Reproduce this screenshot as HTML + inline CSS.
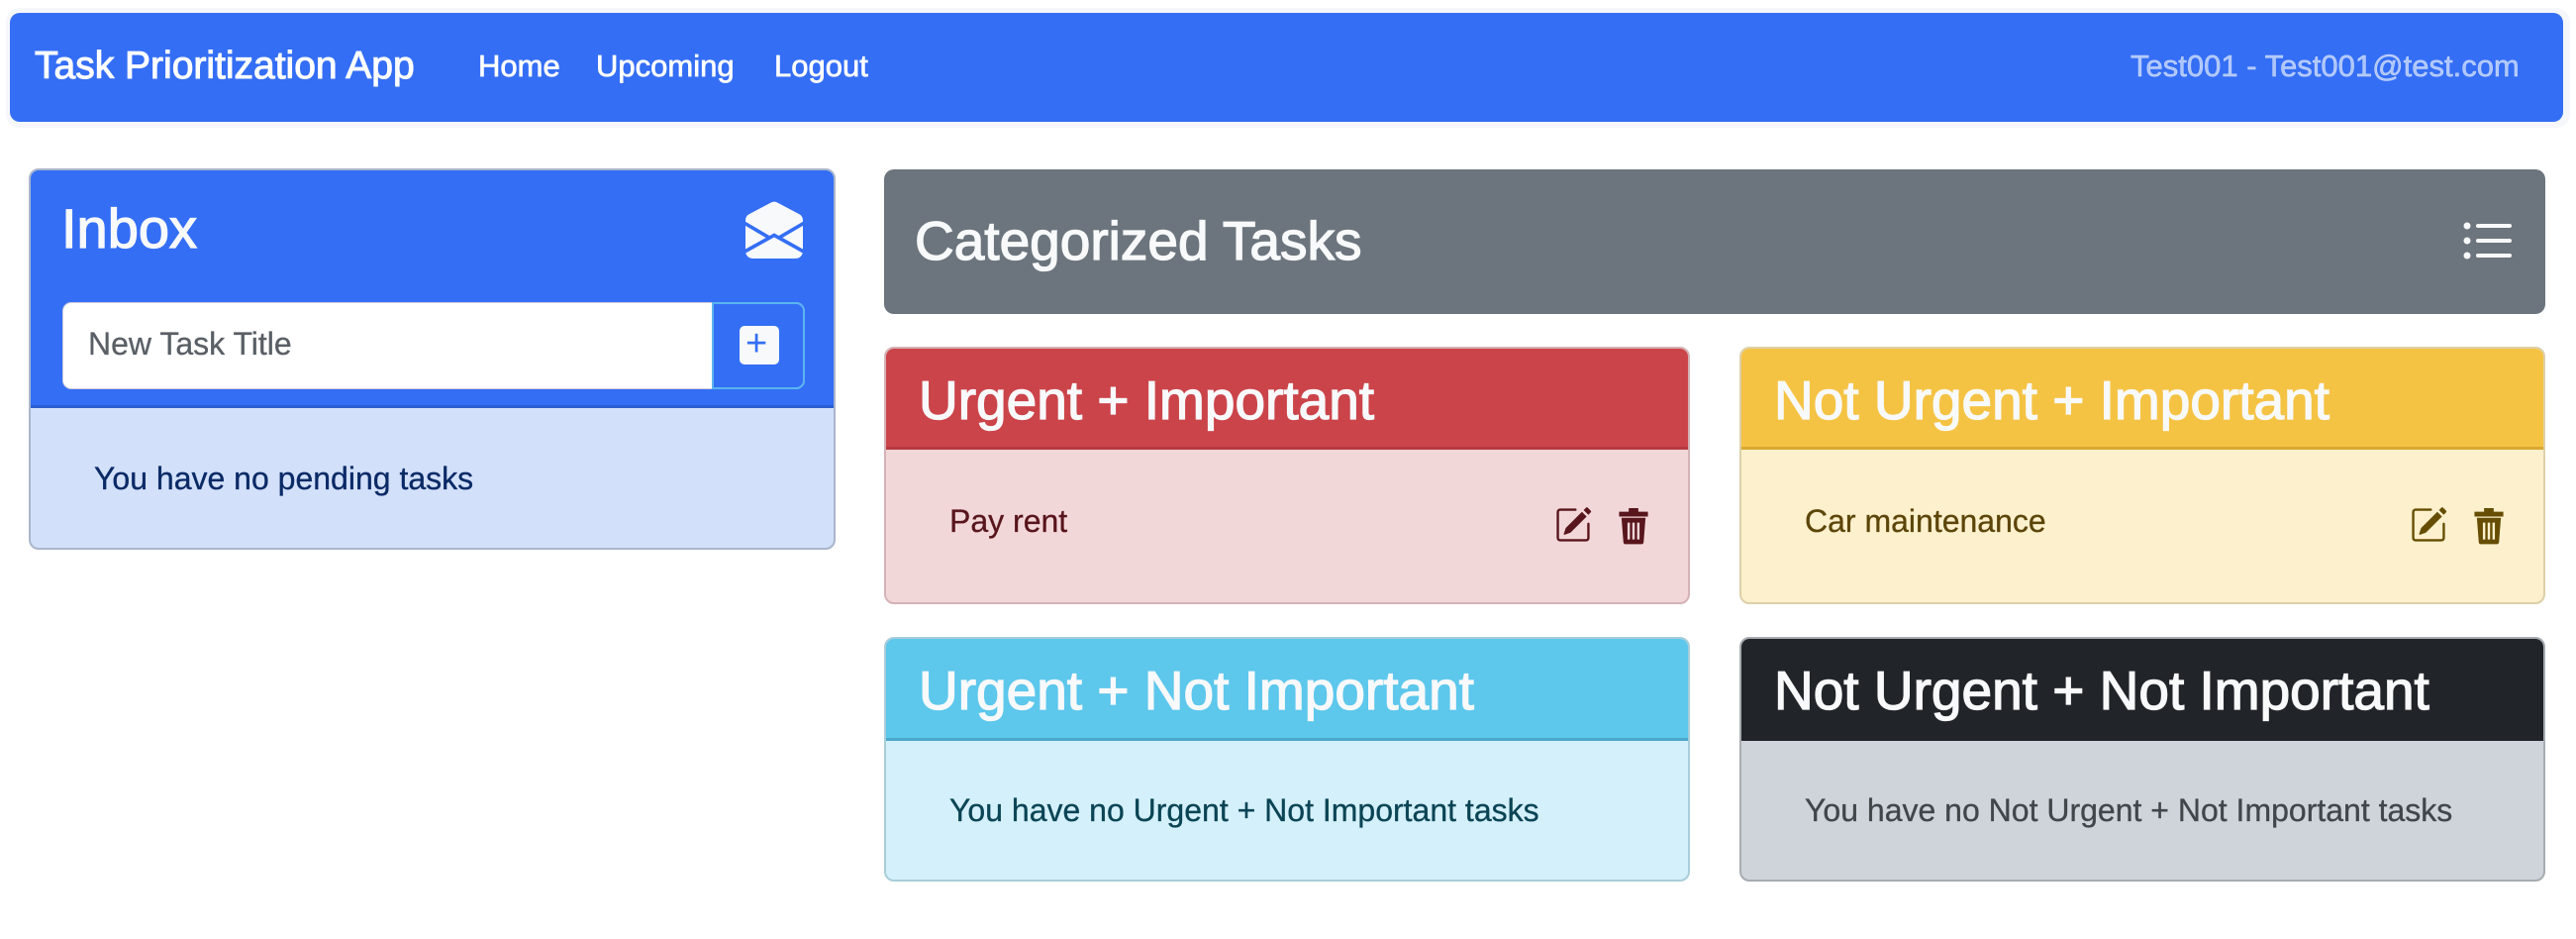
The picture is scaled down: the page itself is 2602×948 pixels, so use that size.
<!DOCTYPE html>
<html><head><meta charset="utf-8"><style>
*{box-sizing:border-box;margin:0;padding:0}
body{width:2602px;height:948px;background:#fff;font-family:"Liberation Sans",sans-serif;position:relative;overflow:hidden}
.a{position:absolute}
.t{position:absolute;white-space:nowrap;line-height:1}
.card{position:absolute;border-radius:10px;overflow:hidden;border:2px solid rgba(0,0,0,.18)}
.hd{position:absolute;left:0;right:0;top:0}
.h{font-size:55px;color:#f8f9fa;-webkit-text-stroke:1.3px #f8f9fa}
.b{font-size:32px;-webkit-text-stroke:0.3px currentColor}
.n{-webkit-text-stroke:0.7px currentColor}
</style></head><body>
<div class="a" style="left:6px;top:8px;width:2590px;height:121px;border-radius:14px;background:#f5f7fa"></div>
<div class="a" style="left:10px;top:13px;width:2579px;height:110px;border-radius:10px;background:#346ef5"></div>
<div class="t n" style="left:35px;top:47px;font-size:39px;color:#fff;-webkit-text-stroke:1px #fff">Task Prioritization App</div>
<div class="t n" style="left:483px;top:51px;font-size:31px;color:#fff">Home</div>
<div class="t n" style="left:602px;top:51px;font-size:31px;color:#fff">Upcoming</div>
<div class="t n" style="left:782px;top:51px;font-size:31px;color:#fff">Logout</div>
<div class="t" style="left:2152px;top:51px;font-size:31px;color:rgba(255,255,255,.6);-webkit-text-stroke:0.5px rgba(255,255,255,.6)">Test001 - Test001@test.com</div>

<!-- Inbox -->
<div class="card" style="left:29px;top:170px;width:815px;height:385px;background:#d3e0fa;border-color:#aab6cc">
 <div class="hd" style="height:240px;background:#346ef5;border-bottom:3px solid #2c5ed0"></div>
 <div class="t h" style="left:31px;top:31px;font-size:56px">Inbox</div>
 <svg class="a" style="left:722px;top:31px" width="58" height="58" viewBox="0 0 16 16"><path fill="#f8f9fa" d="M8.941.435a2 2 0 0 0-1.882 0l-6 3.2A2 2 0 0 0 0 5.4v.314l6.709 3.932L8 8.928l1.291.718L16 5.714V5.4a2 2 0 0 0-1.059-1.765l-6-3.2ZM16 6.873l-5.693 3.337L16 13.372v-6.5Zm-.059 7.611L8 10.072.059 14.484A2 2 0 0 0 2 16h12a2 2 0 0 0 1.941-1.516ZM0 13.373l5.693-3.163L0 6.873v6.5Z"/></svg>
 <div class="a" style="left:32px;top:133px;width:750px;height:88px;border-radius:9px;background:#fff;border:1px solid #ccd"></div>
 <div class="a" style="left:688px;top:133px;width:94px;height:88px;border-radius:0 9px 9px 0;background:#346ef5;border:2px solid #5ab4f0"></div>
 <div class="a" style="left:716px;top:157px;width:40px;height:39px;border-radius:5px;background:#f8f9fa"></div>
 <div class="t" style="left:722px;top:156px;font-size:38px;color:#346ef5">+</div>
 <div class="t b" style="left:58px;top:159px;color:#5a5f66">New Task Title</div>
 <div class="t b" style="left:64px;top:295px;color:#0a2a66">You have no pending tasks</div>
</div>

<!-- Categorized -->
<div class="a" style="left:893px;top:171px;width:1678px;height:146px;border-radius:10px;background:#6c757d"></div>
<div class="t h" style="left:924px;top:216px">Categorized Tasks</div>
<svg class="a" style="left:2487px;top:223px" width="52" height="40" viewBox="0 0 52 40"><g fill="#f8f9fa"><circle cx="5" cy="5" r="3.5"/><circle cx="5" cy="20" r="3.5"/><circle cx="5" cy="35" r="3.5"/><rect x="14" y="3" width="36" height="4" rx="2"/><rect x="14" y="18" width="36" height="4" rx="2"/><rect x="14" y="33" width="36" height="4" rx="2"/></g></svg>

<!-- Quadrants -->
<div class="card" style="left:893px;top:350px;width:814px;height:260px;background:#f2d7d9;border-color:#d4b2b5">
 <div class="hd" style="height:102px;background:#cb444a;border-bottom:3px solid #b53a40"></div>
 <div class="t h" style="left:33px;top:25px">Urgent + Important</div>
 <div class="t b" style="left:64px;top:158px;color:#58151c">Pay rent</div>
 <svg class="a" style="left:675px;top:158px" width="38" height="40" viewBox="0 0 16 16"><g fill="#58151c"><path d="M15.502 1.94a.5.5 0 0 1 0 .706L14.459 3.69l-2-2L13.502.646a.5.5 0 0 1 .707 0l1.293 1.293zm-1.75 2.456-2-2L4.939 9.21a.5.5 0 0 0-.121.196l-.805 2.414a.25.25 0 0 0 .316.316l2.414-.805a.5.5 0 0 0 .196-.12l6.813-6.814z"/><path fill-rule="evenodd" d="M1 13.5A1.5 1.5 0 0 0 2.5 15h11a1.5 1.5 0 0 0 1.5-1.5v-6a.5.5 0 0 0-1 0v6a.5.5 0 0 1-.5.5h-11a.5.5 0 0 1-.5-.5v-11a.5.5 0 0 1 .5-.5H9a.5.5 0 0 0 0-1H2.5A1.5 1.5 0 0 0 1 2.5v11z"/></g></svg>
 <svg class="a" style="left:738px;top:158px" width="34" height="40" viewBox="0 0 14 16"><path fill="#58151c" d="M1 2.5h12v2H1zM5 1h4v1.5H5zM2 5h10l-.8 10.2a1 1 0 0 1-1 .8H3.8a1 1 0 0 1-1-.8zM4.5 7v7h1V7zm2 0v7h1V7zm2 0v7h1V7z" fill-rule="evenodd"/></svg>
</div>

<div class="card" style="left:1757px;top:350px;width:814px;height:260px;background:#fcf0cd;border-color:#ddd0a8">
 <div class="hd" style="height:102px;background:#f5c344;border-bottom:3px solid #d9a830"></div>
 <div class="t h" style="left:33px;top:25px">Not Urgent + Important</div>
 <div class="t b" style="left:64px;top:158px;color:#5c4508">Car maintenance</div>
 <svg class="a" style="left:675px;top:158px" width="38" height="40" viewBox="0 0 16 16"><g fill="#664d03"><path d="M15.502 1.94a.5.5 0 0 1 0 .706L14.459 3.69l-2-2L13.502.646a.5.5 0 0 1 .707 0l1.293 1.293zm-1.75 2.456-2-2L4.939 9.21a.5.5 0 0 0-.121.196l-.805 2.414a.25.25 0 0 0 .316.316l2.414-.805a.5.5 0 0 0 .196-.12l6.813-6.814z"/><path fill-rule="evenodd" d="M1 13.5A1.5 1.5 0 0 0 2.5 15h11a1.5 1.5 0 0 0 1.5-1.5v-6a.5.5 0 0 0-1 0v6a.5.5 0 0 1-.5.5h-11a.5.5 0 0 1-.5-.5v-11a.5.5 0 0 1 .5-.5H9a.5.5 0 0 0 0-1H2.5A1.5 1.5 0 0 0 1 2.5v11z"/></g></svg>
 <svg class="a" style="left:738px;top:158px" width="34" height="40" viewBox="0 0 14 16"><path fill="#664d03" d="M1 2.5h12v2H1zM5 1h4v1.5H5zM2 5h10l-.8 10.2a1 1 0 0 1-1 .8H3.8a1 1 0 0 1-1-.8zM4.5 7v7h1V7zm2 0v7h1V7zm2 0v7h1V7z" fill-rule="evenodd"/></svg>
</div>

<div class="card" style="left:893px;top:643px;width:814px;height:247px;background:#d4f0fa;border-color:#a9cdd9">
 <div class="hd" style="height:103px;background:#5dc7ec;border-bottom:3px solid #4aa7cc"></div>
 <div class="t h" style="left:33px;top:25px">Urgent + Not Important</div>
 <div class="t b" style="left:64px;top:157px;color:#0a4455">You have no Urgent + Not Important tasks</div>
</div>

<div class="card" style="left:1757px;top:643px;width:814px;height:247px;background:#ced4da;border-color:#a7acb1">
 <div class="hd" style="height:103px;background:#212529"></div>
 <div class="t h" style="left:33px;top:25px">Not Urgent + Not Important</div>
 <div class="t b" style="left:64px;top:157px;color:#41464b">You have no Not Urgent + Not Important tasks</div>
</div>
</body></html>
